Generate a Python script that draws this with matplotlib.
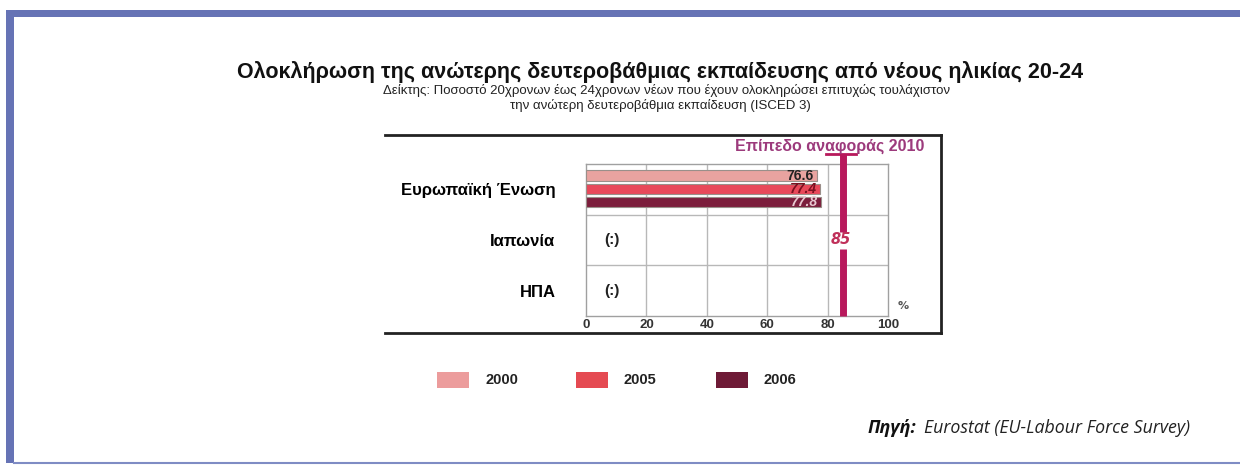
import matplotlib
matplotlib.use("Agg")

import matplotlib.pyplot as plt
from matplotlib.patches import Rectangle
from matplotlib.lines import Line2D

# data
categories = ["Ευρωπαϊκή Ένωση", "Ιαπωνία", "ΗΠΑ"]
years = ["2000", "2005", "2006"]
eu_values = [76.6, 77.4, 77.8]
missing_label = "(:)"
benchmark = 85
x_ticks = [0, 20, 40, 60, 80, 100]

title = "Ολοκλήρωση της ανώτερης δευτεροβάθμιας εκπαίδευσης από νέους ηλικίας 20-24"
subtitle_1 = "Δείκτης: Ποσοστό 20χρονων έως 24χρονων νέων που έχουν ολοκληρώσει επιτυχώς τουλάχιστον"
subtitle_2 = "την ανώτερη δευτεροβάθμια εκπαίδευση (ISCED 3)"
benchmark_label = "Επίπεδο αναφοράς 2010"
source_head = "Πηγή:"
source_text = "Eurostat (EU-Labour Force Survey)"

bar_colors = ["#e9a3a0", "#e8485a", "#7c1d3c"]
value_colors = ["#222222", "#7a1020", "#e8c8d0"]
W, H = 1240, 465

fig = plt.figure(figsize=(W / 100, H / 100), dpi=100)
fig.patch.set_facecolor("white")


def fx(px):
    return px / W


def fy(py):
    return 1 - py / H


# blue frame
frame = "#6673b5"
fig.add_artist(Rectangle((fx(6), fy(17)), fx(1240 - 6), 7 / H, transform=fig.transFigure,
                         color=frame, lw=0))
fig.add_artist(Rectangle((fx(6), fy(463)), fx(8), (463 - 10) / H, transform=fig.transFigure,
                         color=frame, lw=0))
fig.add_artist(Line2D([fx(14), 1], [fy(463), fy(463)], transform=fig.transFigure,
                      color="#7f8cc4", lw=1.5))

# titles
fig.text(fx(660), fy(72), title, ha="center", va="center", fontsize=15.5,
         fontweight="bold", family="Liberation Sans", color="#111111")
fig.text(fx(667), fy(90), subtitle_1, ha="center", va="center", fontsize=9.5,
         family="Liberation Sans", color="#222222")
fig.text(fx(660), fy(105), subtitle_2, ha="center", va="center", fontsize=9.5,
         family="Liberation Sans", color="#222222")

# outer chart box lines (top, bottom, right)
for y in (135, 333):
    fig.add_artist(Line2D([fx(385), fx(941)], [fy(y), fy(y)], transform=fig.transFigure,
                          color="#222222", lw=2))
fig.add_artist(Line2D([fx(941), fx(941)], [fy(135), fy(333)], transform=fig.transFigure,
                      color="#222222", lw=2))

# plot area
ax = fig.add_axes([fx(586), fy(316), fx(888 - 586), (316 - 164) / H])
ax.set_xlim(0, 100)
ax.set_ylim(2.5, -0.5)

offsets = [-0.27, -0.01, 0.25]
for i, (val, col, off) in enumerate(zip(eu_values, bar_colors, offsets)):
    ax.barh(0 + off, val, height=0.21, color=col, edgecolor="#9a8f8a", lw=0.8, zorder=3)
    ax.text(val - 1.2, 0 + off, f"{val:.1f}", ha="right", va="center", fontsize=10,
            fontweight="bold", style="italic" if i else "normal", color=value_colors[i],
            family="Liberation Sans", zorder=4)

for r in (1, 2):
    ax.text(8.5, r, missing_label, ha="center", va="center", fontsize=11,
            fontweight="bold", family="Liberation Sans", color="#222222")

# grid
for x in x_ticks[1:-1]:
    ax.axvline(x, color="#b8b8b8", lw=1, zorder=1)
for y in (0.5, 1.5):
    ax.axhline(y, color="#b8b8b8", lw=1, zorder=1)
for s in ax.spines.values():
    s.set_color("#a0a0a0")
    s.set_linewidth(1)

ax.set_yticks(range(len(categories)))
ax.set_yticklabels(categories, fontsize=12, fontweight="bold", family="Liberation Sans")
ax.tick_params(axis="y", length=0, pad=22)
ax.set_xticks(x_ticks)
ax.set_xticklabels([str(t) for t in x_ticks], fontsize=9.5, fontweight="bold",
                   family="Liberation Sans", color="#333333")
ax.tick_params(axis="x", length=0, pad=2)
ax.text(105, 2.3, "%", ha="center", va="center", fontsize=8, fontweight="bold",
        color="#555555")

# benchmark line
bench_col = "#b8195c"
ax.plot([benchmark, benchmark], [-0.7, 0.85], color=bench_col, lw=5, clip_on=False,
        zorder=5, solid_capstyle="butt")
ax.plot([benchmark, benchmark], [1.17, 2.5], color=bench_col, lw=5, clip_on=False,
        zorder=5, solid_capstyle="butt")
ax.plot([benchmark - 5.5, benchmark + 4.5], [-0.7, -0.7], color=bench_col, lw=2,
        clip_on=False, zorder=5)
ax.text(benchmark - 0.5, 1.0, str(benchmark), ha="center", va="center", fontsize=10.5,
        fontweight="bold", style="italic", color="#c0305a", zorder=6)
fig.text(fx(830), fy(146), benchmark_label, ha="center", va="center", fontsize=11.5,
         fontweight="bold", family="Liberation Sans", color="#9c3a7c")

# legend
leg_x = [437, 576, 716]
for xp, col, yr in zip(leg_x, ["#ec9c9c", "#e54a52", "#6e1a36"], years):
    fig.add_artist(Rectangle((fx(xp), fy(388)), fx(32), 16 / H, transform=fig.transFigure,
                             color=col, lw=0))
    fig.text(fx(xp + 48), fy(380), yr, ha="left", va="center", fontsize=10.5,
             fontweight="bold", family="Liberation Sans", color="#222222")

# source
fig.text(fx(868), fy(428), source_head, ha="left", va="center", fontsize=13,
         fontweight="bold", style="italic", family="Open Sans", color="#111111")
fig.text(fx(924), fy(428), source_text, ha="left", va="center", fontsize=12.8,
         style="italic", family="Open Sans", color="#222222")

fig.savefig("out.png", dpi=100)
